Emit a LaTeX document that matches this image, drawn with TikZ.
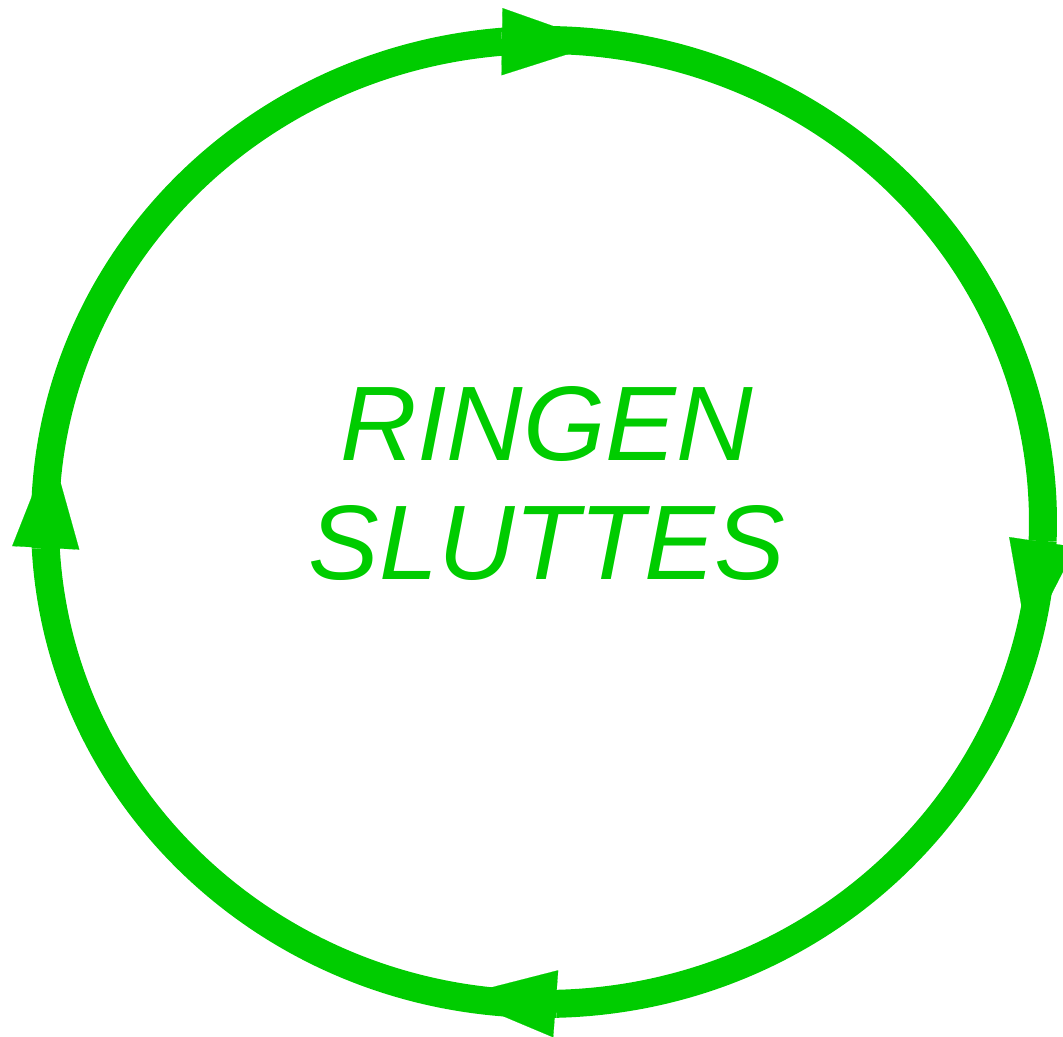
\documentclass[tikz,border=0pt]{standalone}
\usepackage{fontspec}
\setmainfont{Liberation Sans}
\usepackage{tikz}
\usetikzlibrary{arrows.meta}
\definecolor{Rgreen}{HTML}{00CC00}

\begin{document}
\begin{tikzpicture}[
  ring/.style   ={line width=7mm, draw=Rgreen, x radius=12.475cm, y radius=12.05cm},
  head/.style   ={line width=0.1pt, draw=Rgreen, fill=Rgreen,
                  -{Triangle[width=16.8mm,length=25mm]}},
  ringtxt/.style={anchor=base, text=Rgreen, inner sep=0pt,
                  font=\fontsize{75.4}{84.6}\selectfont\itshape},
]
\useasboundingbox (0,0) rectangle (26.575,25.925);

\begin{scope}[shift={(13.6,12.875)}]
% ── arrow bases and tips on the ellipse ─────────────────────────────
\coordinate (lbase) at (183.09:12.475 and 12.05);
\coordinate (ltip)  at (171.17:12.475 and 12.05);
\coordinate (tbase) at (94.83:12.475 and 12.05);
\coordinate (ttip)  at (83.33:12.475 and 12.05);
\coordinate (rbase) at (-2.26:12.475 and 12.05);
\coordinate (rtip)  at (-14.29:12.475 and 12.05);
\coordinate (bbase) at (-88.62:12.475 and 12.05);
\coordinate (btip)  at (-100.16:12.475 and 12.05);

% ── the four arcs, clockwise ────────────────────────────────────────
\draw[ring] (lbase) arc[start angle=183.09, end angle=94.83];
\draw[ring] (tbase) arc[start angle=94.83, end angle=-2.26];
\draw[ring] (rbase) arc[start angle=-2.26, end angle=-88.62];
\draw[ring] (bbase) arc[start angle=-88.62, end angle=-176.91];

% ── arrowheads ──────────────────────────────────────────────────────
\draw[head] (lbase) -- (ltip);
\draw[head] (tbase) -- (ttip);
\draw[head] (rbase) -- (rtip);
\draw[head] (bbase) -- (btip);
\end{scope}

% ── label ───────────────────────────────────────────────────────────
\node[ringtxt] (ringen)  at (13.675,14.4)   {RINGEN};
\node[ringtxt] (sluttes) at (13.675,11.425) {SLUTTES};

\end{tikzpicture}
\end{document}
